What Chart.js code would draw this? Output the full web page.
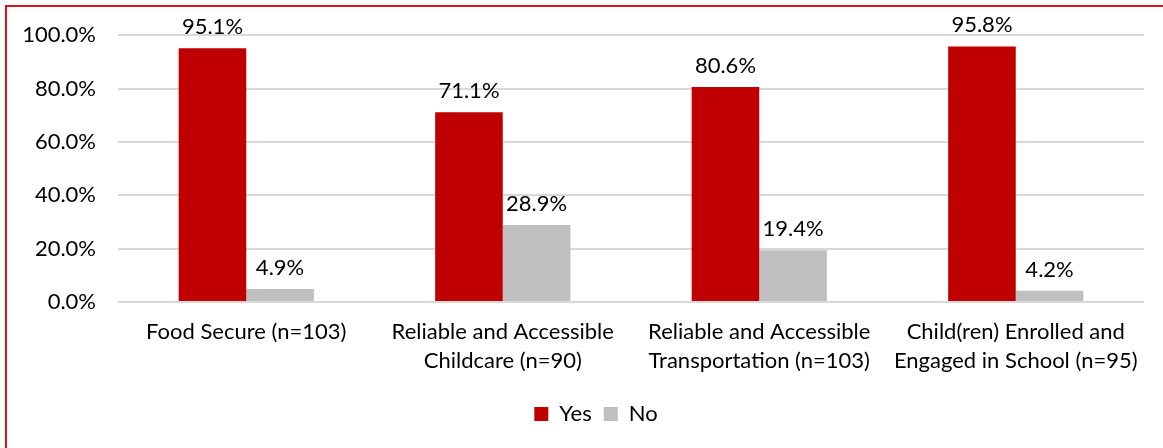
<!DOCTYPE html>
<html>
<head>
<meta charset="utf-8">
<script src="https://cdn.jsdelivr.net/npm/chart.js@4"></script>
<style>
  body { margin: 0; background: #fff; }
  #wrap { position: relative; width: 1163px; height: 448px; }
  #frame { position: absolute; left: 5px; top: 5px; right: 0; bottom: 0; border-top: 2px solid #d7141a; border-left: 2px solid #d7141a; }
  canvas { position: absolute; left: 0; top: 0; }
</style>
</head>
<body>
<div id="wrap">
  <div id="frame"></div>
  <canvas id="chart" width="1163" height="448"></canvas>
</div>
<script>
// categories (split into lines like the original axis labels)
const categories = [
    ['Food Secure (n=103)'],
    ['Reliable and Accessible', 'Childcare (n=90)'],
    ['Reliable and Accessible', 'Transportation (n=103)'],
    ['Child(ren) Enrolled and', 'Engaged in School (n=95)']
];
const yesValues = [95.1, 71.1, 80.6, 95.8];
const noValues = [4.9, 28.9, 19.4, 4.2];
const yTicks = [0, 20, 40, 60, 80, 100];

const FONT = 'Lato, "Open Sans", sans-serif';
const FONT_SIZE = 22;

// labels above each bar
const barLabels = {
    id: 'barLabels',
    afterDatasetsDraw(chart) {
        const ctx = chart.ctx;
        ctx.save();
        ctx.font = FONT_SIZE + 'px ' + FONT;
        ctx.fillStyle = '#000';
        ctx.textAlign = 'center';
        ctx.textBaseline = 'middle';
        chart.data.datasets.forEach((ds, i) => {
            chart.getDatasetMeta(i).data.forEach((bar, j) => {
                ctx.fillText(ds.data[j].toFixed(1) + '%', bar.x, bar.y - 21);
            });
        });
        ctx.restore();
    }
};

// the legend sits a little right of centre in the original
const legendShift = {
    id: 'legendShift',
    afterLayout(chart) {
        chart.legend.left += 24;
        chart.legend.right += 24;
    }
};

new Chart(document.getElementById('chart'), {
    type: 'bar',
    data: {
        labels: categories,
        datasets: [
            { label: 'Yes', data: yesValues, backgroundColor: '#c00000' },
            { label: 'No', data: noValues, backgroundColor: '#bfbfbf' }
        ]
    },
    options: {
        responsive: false,
        animation: false,
        events: [],
        layout: { padding: { left: 0, right: 19, top: 35, bottom: 13 } },
        datasets: { bar: { categoryPercentage: 0.527, barPercentage: 1 } },
        scales: {
            x: {
                grid: { display: false },
                border: { display: false },
                ticks: {
                    color: '#000',
                    font: { family: FONT, size: FONT_SIZE, lineHeight: 1.3 },
                    padding: 8,
                    maxRotation: 0,
                    autoSkip: false
                },
                afterFit(scale) { scale.height = 89; }
            },
            y: {
                min: 0,
                max: 100,
                afterBuildTicks(scale) { scale.ticks = yTicks.map(v => ({ value: v })); },
                grid: { color: '#d9d9d9', lineWidth: 2, drawTicks: false },
                border: { display: false },
                ticks: {
                    color: '#000',
                    font: { family: FONT, size: FONT_SIZE },
                    padding: 22,
                    callback: v => v.toFixed(1) + '%'
                },
                afterFit(scale) { scale.width = 118; }
            }
        },
        plugins: {
            legend: {
                position: 'bottom',
                labels: {
                    color: '#000',
                    font: { family: FONT, size: FONT_SIZE },
                    boxWidth: 14,
                    boxHeight: 14,
                    padding: 12
                }
            },
            tooltip: { enabled: false }
        }
    },
    plugins: [barLabels, legendShift]
});
</script>
</body>
</html>
